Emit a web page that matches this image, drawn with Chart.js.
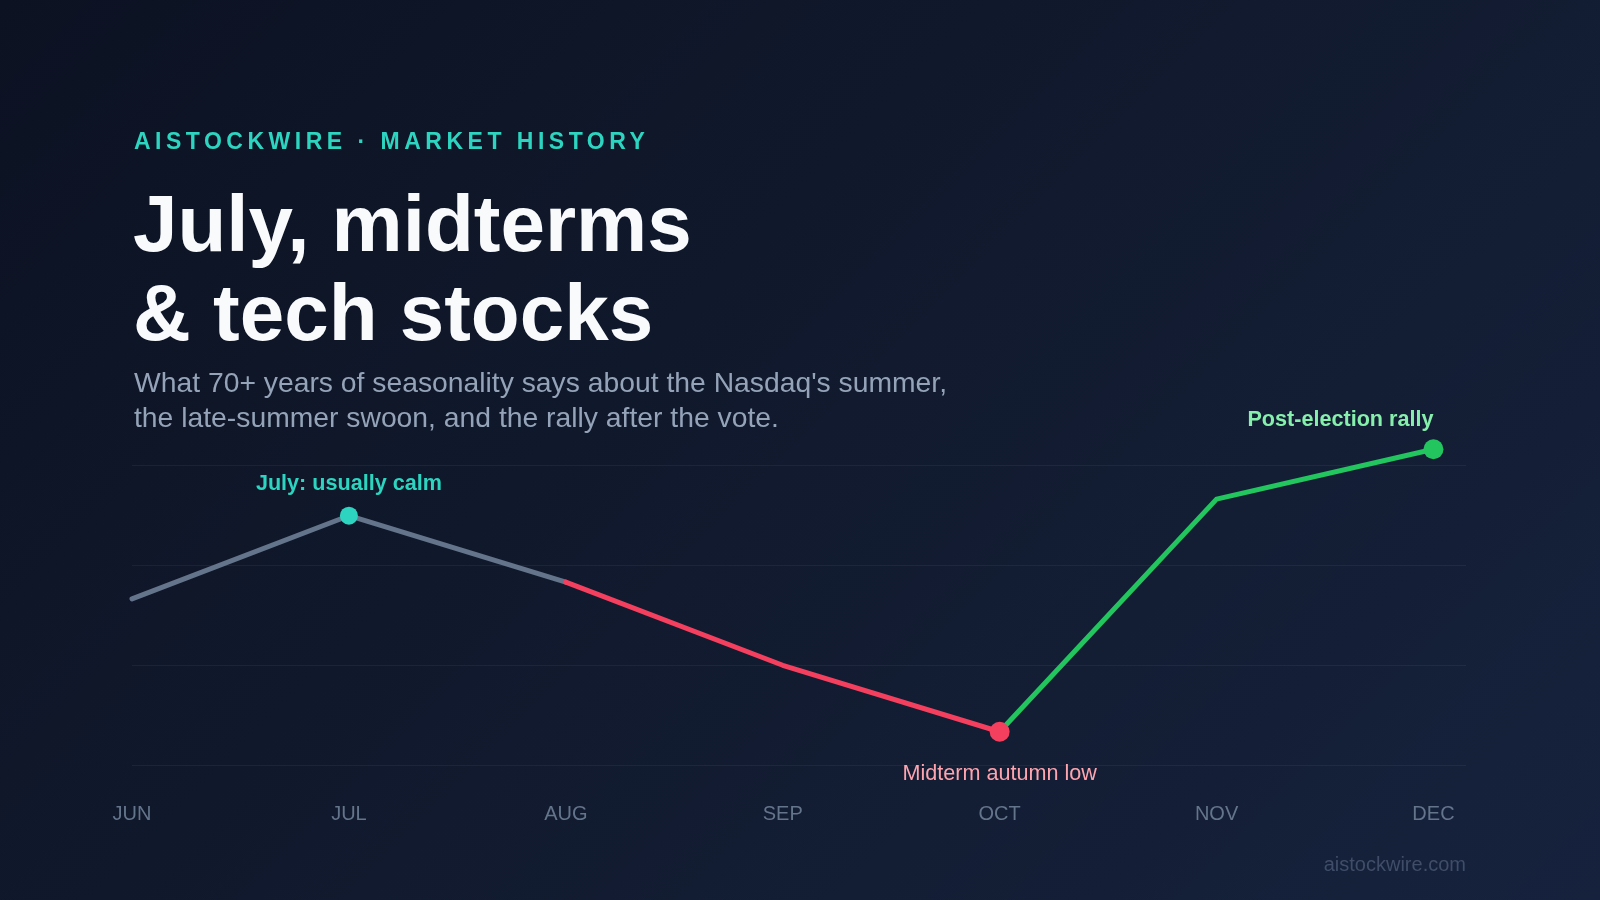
<!DOCTYPE html>
<html>
<head>
<meta charset="utf-8">
<script src="https://cdn.jsdelivr.net/npm/chart.js@4.4.1/dist/chart.umd.min.js"></script>
<style>
    html, body { margin: 0; padding: 0; }
    body {
        width: 1600px;
        height: 900px;
        overflow: hidden;
        position: relative;
        font-family: "Liberation Sans", Arial, sans-serif;
        background: linear-gradient(135deg, #0c1222 0%, #111a2e 50%, #16223d 100%);
    }
    #chartWrap { position: absolute; left: 0; top: 0; width: 1600px; height: 900px; }
    .kicker {
        position: absolute; left: 134px; top: 130px;
        font-size: 23px; line-height: 23px; font-weight: bold;
        letter-spacing: 4.5px; color: #2dd4bf; white-space: nowrap;
    }
    .headline {
        position: absolute; left: 133px; top: 179px;
        font-size: 80px; line-height: 89px; font-weight: bold;
        color: #f8fafc; white-space: nowrap;
    }
    .sub {
        position: absolute; left: 134px; top: 365px;
        font-size: 28.3px; line-height: 34.5px; color: #94a3b8; white-space: nowrap;
    }
    .source {
        position: absolute; right: 134px; top: 852px;
        font-size: 20px; line-height: 24px; color: #3f4d68;
    }
</style>
</head>
<body>
<div id="chartWrap"><canvas id="seasonChart"></canvas></div>
<div class="kicker">AISTOCKWIRE · MARKET HISTORY</div>
<div class="headline">July, midterms<br>&amp; tech stocks</div>
<div class="sub">What 70+ years of seasonality says about the Nasdaq's summer,<br>the late-summer swoon, and the rally after the vote.</div>
<div class="source">aistockwire.com</div>

<script>
// seasonal path, June = 0
const months = ['JUN', 'JUL', 'AUG', 'SEP', 'OCT', 'NOV', 'DEC'];
const pathValues = [0, 1.0, 0.2, -0.8, -1.6, 1.2, 1.8];
const gridValues = [-2, -0.8, 0.4, 1.6];

// callouts
const noteIndex = [1, 4, 6];
const noteText = ['July: usually calm', 'Midterm autumn low', 'Post-election rally'];

const segmentColors = ['#64748b', '#64748b', '#f43f5e', '#f43f5e', '#22c55e', '#22c55e'];
const pointColors = ['#64748b', '#2dd4bf', '#64748b', '#64748b', '#f43f5e', '#64748b', '#22c55e'];
const pointSizes = [0, 9, 0, 0, 10, 0, 10];

const noteStyles = [
    { color: '#2dd4bf', weight: 'bold', align: 'center', dy: -26 },
    { color: '#fda4af', weight: 'normal', align: 'center', dy: 48 },
    { color: '#86efac', weight: 'bold', align: 'right', dy: -23 }
];

const calloutPlugin = {
    id: 'callouts',
    afterDatasetsDraw(chart) {
        const { ctx, scales } = chart;
        ctx.save();
        ctx.textBaseline = 'alphabetic';
        noteIndex.forEach((idx, i) => {
            const st = noteStyles[i];
            const x = scales.x.getPixelForValue(idx);
            const y = scales.y.getPixelForValue(pathValues[idx]);
            ctx.font = st.weight + ' 21.6px "Liberation Sans", Arial, sans-serif';
            ctx.fillStyle = st.color;
            ctx.textAlign = st.align;
            ctx.fillText(noteText[i], x, y + st.dy);
        });
        ctx.restore();
    }
};

Chart.defaults.font.family = '"Liberation Sans", Arial, sans-serif';

document.addEventListener('DOMContentLoaded', () => {
    const ctx = document.getElementById('seasonChart');

    new Chart(ctx, {
        type: 'line',
        data: {
            datasets: [{
                data: pathValues.map((v, i) => ({ x: i, y: v })),
                borderWidth: 5,
                borderCapStyle: 'round',
                borderJoinStyle: 'round',
                segment: {
                    borderColor: c => segmentColors[c.p0DataIndex]
                },
                pointRadius: pointSizes,
                pointHoverRadius: pointSizes,
                pointBackgroundColor: pointColors,
                pointBorderWidth: 0,
                tension: 0,
                clip: false
            }]
        },
        options: {
            responsive: true,
            maintainAspectRatio: false,
            animation: false,
            layout: {
                padding: { left: 132, right: 134, top: 416, bottom: 37 }
            },
            plugins: {
                legend: { display: false },
                tooltip: { enabled: false }
            },
            scales: {
                x: {
                    type: 'linear',
                    min: 0,
                    max: 6.15,
                    afterBuildTicks: axis => { axis.ticks = months.map((m, i) => ({ value: i })); },
                    grid: { display: false, drawTicks: false },
                    border: { display: false },
                    ticks: {
                        autoSkip: false,
                        maxRotation: 0,
                        padding: 37,
                        color: '#64748b',
                        font: { size: 20 },
                        callback: v => months[v]
                    }
                },
                y: {
                    min: -2,
                    max: 2.2,
                    afterBuildTicks: axis => { axis.ticks = gridValues.map(v => ({ value: v })); },
                    grid: { color: 'rgba(148, 163, 184, 0.09)', lineWidth: 1, drawTicks: false },
                    border: { display: false },
                    ticks: { display: false }
                }
            }
        },
        plugins: [calloutPlugin]
    });
});
</script>
</body>
</html>
